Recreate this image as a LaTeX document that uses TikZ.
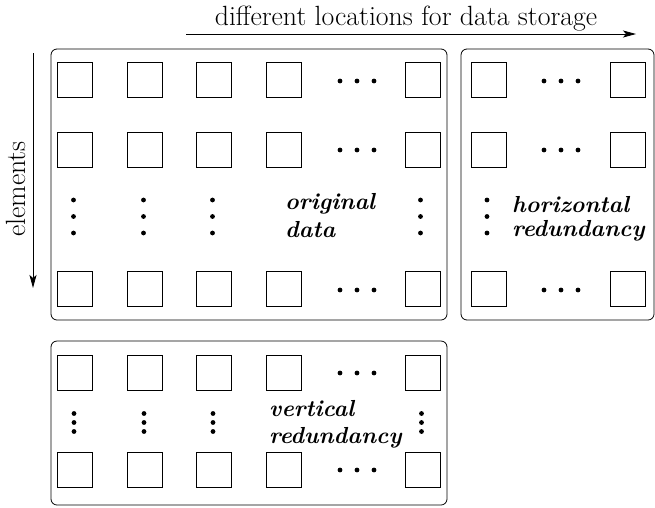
\documentclass[tikz,border=0pt]{standalone}
\usetikzlibrary{arrows.meta}

\begin{document}
\begin{tikzpicture}[x=1pt,y=-1pt]
    \tikzset{cell/.style = {shape=rectangle, draw, line width=0.8pt, minimum size=35pt, inner sep=0pt}}
    \tikzset{group/.style = {draw, line width=0.8pt, rounded corners=6pt}}
    \tikzset{tag/.style = {font=\fontsize{23.2}{25}\selectfont\bfseries\itshape, align=left, anchor=north west, inner sep=0pt}}
    \tikzset{axis/.style = {draw, line width=0.8pt, -{Stealth[length=13pt,width=7pt,inset=3pt]}}}
    \tikzset{plain/.style = {font=\fontsize{27.8}{30}\selectfont, inner sep=0pt}}

    \useasboundingbox (0,0) rectangle (655,507);

    % groups
    \draw[group] (51,49) rectangle (447,320);
    \draw[group] (461,49) rectangle (654,320);
    \draw[group] (51,341) rectangle (447,505);

    % cells
    \foreach \c/\x in {1/74.5,2/144.5,3/214,4/283.5,6/422.5} {
        \foreach \r/\y in {1/79.5,2/149.5,4/289}
            \node[cell] (o-\r-\c) at (\x,\y) {};
        \foreach \r/\y in {1/372.5,2/469.5}
            \node[cell] (v-\r-\c) at (\x,\y) {};
    }
    \foreach \c/\x in {1/489,3/627.5}
        \foreach \r/\y in {1/79.5,2/149.5,4/289}
            \node[cell] (h-\r-\c) at (\x,\y) {};

    % dots
    \foreach \y in {81,150,290} {
        \foreach \x in {340,357,374} \fill (\x,\y) circle (2.4pt);
        \foreach \x in {544,561,578} \fill (\x,\y) circle (2.4pt);
    }
    \foreach \y in {373,470}
        \foreach \x in {340,357,374} \fill (\x,\y) circle (2.4pt);
    \foreach \x in {73.5,143.5,212.5,420.5,487}
        \foreach \y in {200,216.5,233} \fill (\x,\y) circle (2.4pt);
    \foreach \x in {74,144,213,421.5}
        \foreach \y in {413.5,422.5,431.5} \fill (\x,\y) circle (2.4pt);

    % labels
    \node[tag] (orig) at (285,193) {original\\[3pt]data};
    \node[tag] (horiz) at (512,196) {horizontal\\[-1pt]redundancy};
    \node[tag] (vert) at (269,400) {vertical\\[2pt]redundancy};

    % axes
    \node[plain, anchor=base] (locs) at (406,25) {different locations for data storage};
    \node[plain, anchor=base, rotate=90] (elems) at (25,189) {elements};
    \coordinate (x0) at (186,34);
    \coordinate (x1) at (636,34);
    \coordinate (y0) at (33,53);
    \coordinate (y1) at (33,288);
    \draw[axis] (x0) -- (x1);
    \draw[axis] (y0) -- (y1);
\end{tikzpicture}
\end{document}
